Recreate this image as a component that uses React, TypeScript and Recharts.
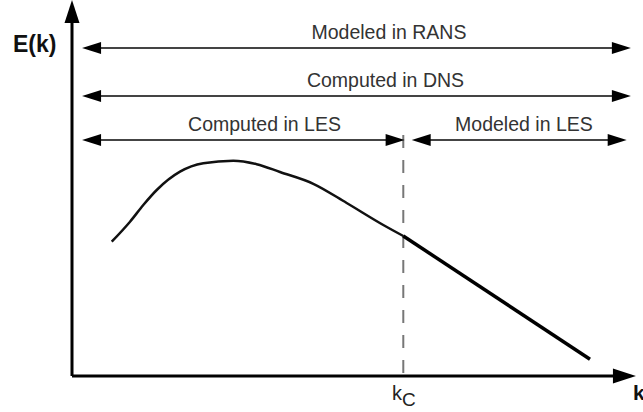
import React from 'react';
import { ComposedChart, Line, XAxis, YAxis, ReferenceLine, ReferenceDot } from 'recharts';

// Energy spectrum E(k) – resolved part (k < kc) and modeled tail (k > kc)
const kResolved = [7.09, 10.36, 12.73, 15.13, 19.29, 23.45, 28.8, 32.98, 37.14, 43.09, 49.05, 55.59, 59.16];
const eResolved = [37.72, 43.34, 48.03, 52.25, 57.39, 59.75, 60.48, 59.5, 57.3, 54.0, 48.6, 42.42, 39.33];
const kTail = [59.16, 92.5];
const eTail = [39.33, 4.69];

const KC = 59.16;
const K_MIN = 1.8;
const K_MAX = 99.8;

// arrow bands: label, y level, from, to, label x, label y
const bandLabels = ['Modeled in RANS', 'Computed in DNS', 'Computed in LES', 'Modeled in LES'];
const bandY = [92.13, 78.65, 66.29, 66.29];
const bandFrom = [K_MIN, K_MIN, K_MIN, 60.66];
const bandTo = [K_MAX, K_MAX, 59.4, 99.05];
const labelX = [56.6, 55.98, 34.38, 80.7];
const labelY = [94.66, 81.18, 68.8, 68.8];

const resolvedData = kResolved.map((k, i) => ({ k, e: eResolved[i] }));
const tailData = kTail.map((k, i) => ({ k, e: eTail[i] }));

type ArrowOpts = { start: boolean; end: boolean; len: number; half: number; color: string; width: number; head: string };

const makeArrow = (o: ArrowOpts) => (p: any) => {
  const { x1, y1, x2, y2 } = p;
  const dx = x2 - x1;
  const dy = y2 - y1;
  const L = Math.sqrt(dx * dx + dy * dy) || 1;
  const ux = dx / L;
  const uy = dy / L;
  const nx = -uy;
  const ny = ux;
  const sx = o.start ? x1 + ux * o.len * 0.8 : x1;
  const sy = o.start ? y1 + uy * o.len * 0.8 : y1;
  const ex = o.end ? x2 - ux * o.len * 0.8 : x2;
  const ey = o.end ? y2 - uy * o.len * 0.8 : y2;
  const tri = (tx: number, ty: number, dirx: number, diry: number) => {
    const bx = tx - dirx * o.len;
    const by = ty - diry * o.len;
    return `${tx},${ty} ${bx + nx * o.half},${by + ny * o.half} ${bx - nx * o.half},${by - ny * o.half}`;
  };
  return (
    <g>
      <line x1={sx} y1={sy} x2={ex} y2={ey} stroke={o.color} strokeWidth={o.width} />
      {o.start && <polygon points={tri(x1, y1, -ux, -uy)} fill={o.head} />}
      {o.end && <polygon points={tri(x2, y2, ux, uy)} fill={o.head} />}
    </g>
  );
};

const bandArrow = makeArrow({ start: true, end: true, len: 19, half: 6, color: '#444', width: 2, head: '#000' });
const axisArrow = makeArrow({ start: false, end: true, len: 23, half: 7.5, color: '#000', width: 3, head: '#000' });

const textShape = (txt: string, opts: { size: number; bold?: boolean; anchor?: string; color?: string }) => (p: any) => (
  <text
    x={p.cx}
    y={p.cy}
    fontFamily="'Liberation Sans', Arial, Helvetica, sans-serif"
    fontSize={opts.size}
    fontWeight={opts.bold ? 'bold' : 'normal'}
    textAnchor={opts.anchor || 'middle'}
    fill={opts.color || '#333'}
  >
    {txt}
  </text>
);

const kcShape = (p: any) => (
  <text x={p.cx} y={p.cy} fontFamily="'Liberation Sans', Arial, Helvetica, sans-serif" fill="#222" textAnchor="start">
    <tspan fontSize={20}>k</tspan>
    <tspan fontSize={19} dy={6}>C</tspan>
  </text>
);

export default function App() {
  return (
    <div style={{ position: 'absolute', left: 0, top: 0, background: '#fff' }}>
      <ComposedChart width={643} height={412} margin={{ top: 20, right: 11, bottom: 36, left: 72 }}>
        <XAxis type="number" dataKey="k" domain={[0, 100]} allowDataOverflow hide />
        <YAxis type="number" dataKey="e" domain={[0, 100]} allowDataOverflow hide />

        <ReferenceLine
          segment={[{ x: KC, y: 67.7 }, { x: KC, y: 0 }]}
          stroke="#777"
          strokeWidth={2}
          strokeDasharray="13 12"
          ifOverflow="visible"
        />

        <ReferenceLine segment={[{ x: 0, y: 0 }, { x: 0, y: 105.6 }]} shape={axisArrow} ifOverflow="visible" />
        <ReferenceLine segment={[{ x: 0, y: 0 }, { x: 100.7, y: 0 }]} shape={axisArrow} ifOverflow="visible" />

        {bandLabels.map((lab, i) => (
          <ReferenceLine
            key={'b' + i}
            segment={[{ x: bandFrom[i], y: bandY[i] }, { x: bandTo[i], y: bandY[i] }]}
            shape={bandArrow}
            ifOverflow="visible"
          />
        ))}
        {bandLabels.map((lab, i) => (
          <ReferenceDot
            key={'l' + i}
            x={labelX[i]}
            y={labelY[i]}
            r={0}
            ifOverflow="visible"
            shape={textShape(lab, { size: 19.5 })}
          />
        ))}

        <ReferenceDot x={-10.54} y={91.0} r={0} ifOverflow="visible" shape={textShape('E(k)', { size: 23, bold: true, anchor: 'start', color: '#111' })} />
        <ReferenceDot x={100.18} y={-6.74} r={0} ifOverflow="visible" shape={textShape('k', { size: 21, bold: true, anchor: 'start', color: '#111' })} />
        <ReferenceDot x={57.14} y={-6.74} r={0} ifOverflow="visible" shape={kcShape} />

        <Line data={resolvedData} dataKey="e" type="monotone" stroke="#111" strokeWidth={2.5} dot={false} isAnimationActive={false} />
        <Line data={tailData} dataKey="e" type="linear" stroke="#000" strokeWidth={3.5} dot={false} isAnimationActive={false} />
      </ComposedChart>
    </div>
  );
}
